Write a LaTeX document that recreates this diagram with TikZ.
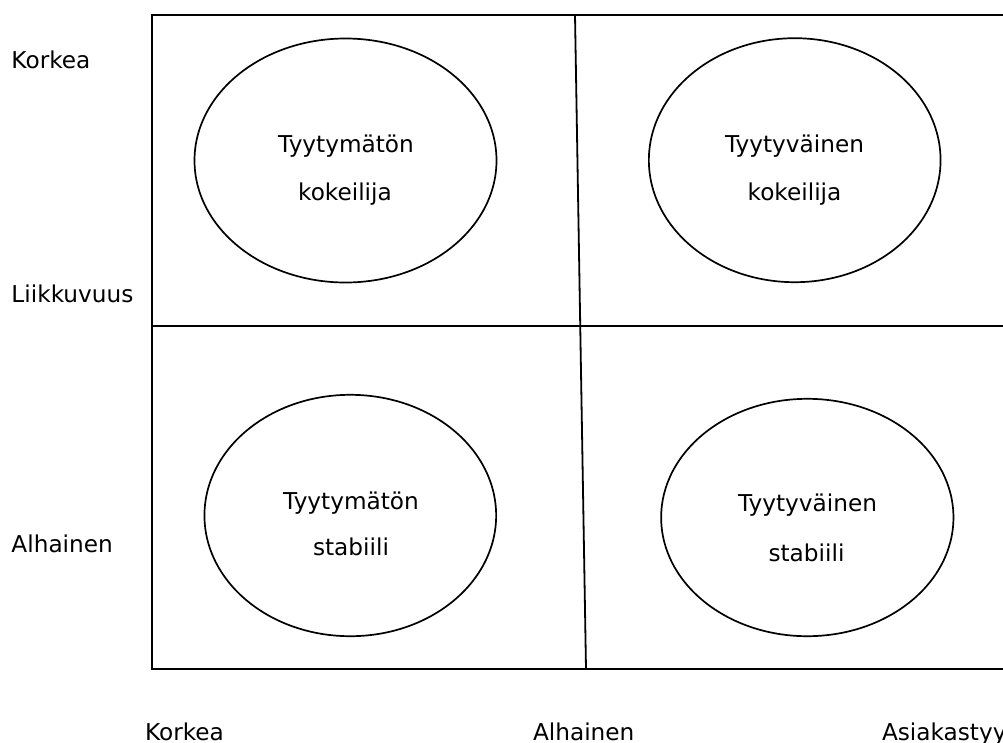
\documentclass[tikz,border=0pt]{standalone}
\usepackage{fontspec}
\setmainfont{DejaVu Sans}
\usetikzlibrary{shapes.geometric}
\begin{document}
\begin{tikzpicture}[x=1pt,y=-1pt,
  grid/.style={line width=1.8pt,black},
  segment/.style={draw,ellipse,line width=1.7pt,inner sep=0pt,outer sep=0pt},
  txt/.style={inner sep=0pt,outer sep=0pt,font=\fontsize{23.2}{28}\selectfont},
  lbl/.style={txt,anchor=base west},
  ctr/.style={txt,anchor=base}]
\useasboundingbox (0,0) rectangle (1003,742);

% quadrant frame (runs past the right edge)
\draw[grid] (1015,15) -- (152,15) -- (152,669) -- (1015,669);
\draw[grid] (152,326) -- (1015,326);
\draw[grid] (575,15) -- (586,669);

% the four customer segments
\node[segment,minimum width=302pt,minimum height=244pt] (tl) at (345.5,160.5) {};
\node[segment,minimum width=291.7pt,minimum height=244pt] (tr) at (794.7,160.2) {};
\node[segment,minimum width=291.7pt,minimum height=241.4pt] (bl) at (350.3,515.5) {};
\node[segment,minimum width=292.3pt,minimum height=237.4pt] (br) at (807.3,517.5) {};

\node[ctr] (tla) at (346,152) {Tyytymätön};
\node[ctr] (tlb) at (345,200) {kokeilija};
\node[ctr] (tra) at (794.5,152) {Tyytyväinen};
\node[ctr] (trb) at (794.5,200) {kokeilija};
\node[ctr] (bla) at (351,509) {Tyytymätön};
\node[ctr] (blb) at (351,555) {stabiili};
\node[ctr] (bra) at (807.5,511.7) {Tyytyväinen};
\node[ctr] (brb) at (806.5,561.5) {stabiili};

% vertical axis labels
\node[lbl] (yhigh) at (11.5,68) {Korkea};
\node[lbl] (yname) at (11.5,302) {Liikkuvuus};
\node[lbl] (ylow) at (11.5,552) {Alhainen};

% horizontal axis labels, sitting on the lower edge
\node[lbl] (xhigh) at (145,740) {Korkea};
\node[lbl] (xlow) at (533,740) {Alhainen};
\node[lbl] (xname) at (882,740) {Asiakastyy};
\end{tikzpicture}
\end{document}
